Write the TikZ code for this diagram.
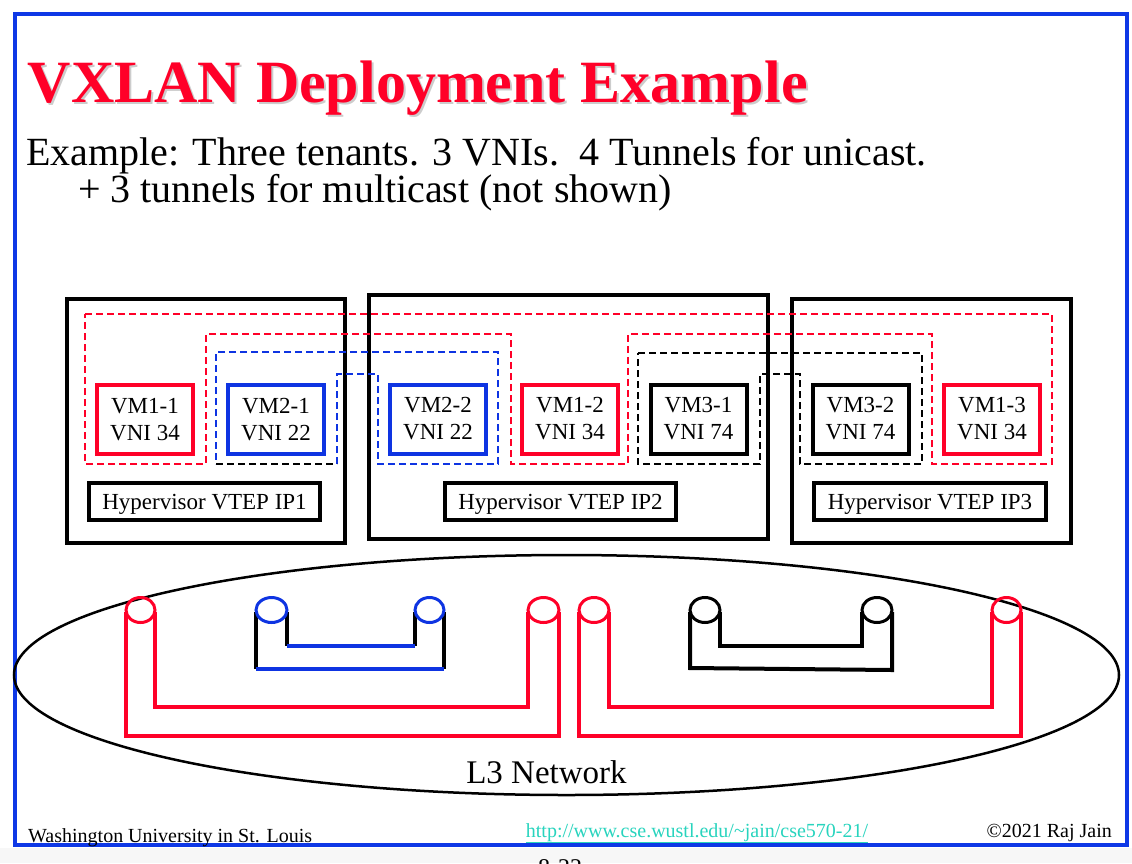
\documentclass[tikz,border=0pt]{standalone}
\usepackage{fontspec}
\setmainfont{Liberation Serif}
\definecolor{tred}{RGB}{255,0,40}
\definecolor{tblue}{RGB}{14,52,226}
\definecolor{frameblue}{RGB}{14,56,230}
\definecolor{urlteal}{RGB}{40,212,190}
\begin{document}
\begin{tikzpicture}[x=1pt,y=-1pt,
  hvbox/.style={draw=black, line width=4pt, inner sep=0pt, minimum height=244pt},
  vmbox/.style={draw=#1, line width=4pt, minimum width=96pt, minimum height=69pt,
    inner sep=0pt, align=center, font=\fontsize{23}{27}\selectfont},
  hvlabel/.style={draw=black, line width=4pt, minimum width=231pt, minimum height=37pt,
    inner sep=0pt, text depth=0pt, font=\fontsize{23}{27}\selectfont},
  tundash/.style={line width=1.6pt, dash pattern=on 7pt off 4pt},
  tunpipe/.style={line width=4pt, line join=miter},
  tuncap/.style={line width=3pt},
  txt/.style={inner sep=0pt, anchor=base west}]

\useasboundingbox (0,0) rectangle (1132,863);
\fill[white] (0,0) rectangle (1132,863);
\fill[black!3] (0,848) rectangle (1132,863);

% slide frame
\draw[frameblue, line width=4pt] (15,13.5) rectangle (1127,845);

% title with soft shadow
\node[txt, text=black!20, font=\fontsize{60}{60}\bfseries\selectfont] (titleshadow) at (29.5,104) {VXLAN Deployment Example};
\node[txt, text=tred, font=\fontsize{60}{60}\bfseries\selectfont] (title) at (27.5,102) {VXLAN Deployment Example};

% subtitle
\node[txt, font=\fontsize{40}{40}\selectfont] (sub1) at (26,165) {Example: Three tenants. 3 VNIs.\ \ 4 Tunnels for unicast.};
\node[txt, font=\fontsize{40}{40}\selectfont] (sub2) at (78,202) {+ 3 tunnels for multicast (not shown)};

% hypervisors
\node[hvbox, minimum width=278pt] (hv1) at (206,421) {};
\node[hvbox, minimum width=399pt] (hv2) at (568.5,417) {};
\node[hvbox, minimum width=279pt] (hv3) at (931.5,421) {};

% virtual machines
\node[vmbox=tred]  (vm11) at (145,419.5) {VM1-1\\VNI 34};
\node[vmbox=tblue] (vm21) at (276,419.5) {VM2-1\\VNI 22};
\node[vmbox=tblue] (vm22) at (438,419) {VM2-2\\VNI 22};
\node[vmbox=tred]  (vm12) at (570,419) {VM1-2\\VNI 34};
\node[vmbox=black] (vm31) at (698.5,419) {VM3-1\\VNI 74};
\node[vmbox=black] (vm32) at (860.5,419) {VM3-2\\VNI 74};
\node[vmbox=tred]  (vm13) at (992,419) {VM1-3\\VNI 34};

% VTEP labels
\node[hvlabel] (ip1) at (204.5,501.5) {Hypervisor VTEP IP1};
\node[hvlabel] (ip2) at (560.5,501.5) {Hypervisor VTEP IP2};
\node[hvlabel, minimum width=232pt] (ip3) at (930,501.5) {Hypervisor VTEP IP3};

% tenant outlines
\draw[tundash, tred] (85,314) -- (1052,314) -- (1052,464) -- (932,464) -- (932,334)
  -- (628,334) -- (628,464) -- (511,464) -- (511,334) -- (206,334) -- (206,464)
  -- (85,464) -- cycle;
\draw[tundash, tblue] (337,464) -- (337,374) -- (378,374) -- (378,464) -- (498,464)
  -- (498,352) -- (216,352) -- (216,464);
\draw[tundash, black] (216,464) -- (337,464);
\draw[tundash, black] (638,353) -- (922,353) -- (922,464) -- (800,464) -- (800,374)
  -- (760,374) -- (760,464) -- (638,464) -- cycle;

% L3 network
\draw[line width=2.5pt] (566.5,675) ellipse [x radius=552.5, y radius=120];
\node[inner sep=0pt, anchor=base, font=\fontsize{33}{33}\selectfont] (l3) at (546.5,783) {L3 Network};

% tunnel for VNI 34 (IP1 - IP2)
\draw[tunpipe, tred] (126,612) -- (126,736) -- (559,736) -- (559,612);
\draw[tunpipe, tred] (155,612) -- (155,707) -- (528,707) -- (528,612);
\draw[tuncap, tred] (140.5,610) ellipse [x radius=14.5, y radius=12.5];
\draw[tuncap, tred] (543.5,610) ellipse [x radius=15.5, y radius=12.5];

% tunnel for VNI 22
\draw[tunpipe] (256,612) -- (256,669);
\draw[tunpipe] (287,612) -- (287,646);
\draw[tunpipe] (415,612) -- (415,646);
\draw[tunpipe] (444,612) -- (444,669);
\draw[tunpipe, tblue] (287,646) -- (415,646);
\draw[tunpipe, tblue] (256,669) -- (444,669);
\draw[tuncap, tblue] (271.5,610) ellipse [x radius=15.5, y radius=12.5];
\draw[tuncap, tblue] (429.5,610) ellipse [x radius=14.5, y radius=12.5];

% tunnel for VNI 34 (IP2 - IP3)
\draw[tunpipe, tred] (579,612) -- (579,736) -- (1021,736) -- (1021,612);
\draw[tunpipe, tred] (609,612) -- (609,707) -- (992,707) -- (992,612);
\draw[tuncap, tred] (594,610) ellipse [x radius=15, y radius=12.5];
\draw[tuncap, tred] (1006.5,610) ellipse [x radius=14.5, y radius=12.5];

% tunnel for VNI 74
\draw[tunpipe] (690,612) -- (690,668) -- (892,670) -- (892,612);
\draw[tunpipe] (720,612) -- (720,646) -- (862,646) -- (862,612);
\draw[tuncap] (705,610) ellipse [x radius=15, y radius=12.5];
\draw[tuncap] (877,610) ellipse [x radius=15, y radius=12.5];

% footer
\node[txt, font=\fontsize{20}{20}\selectfont] (univ) at (28,842) {Washington University in St. Louis};
\node[inner sep=0pt, anchor=base, text=urlteal, font=\fontsize{20}{20}\selectfont] (url) at (697,837)
  {\underline{http://www.cse.wustl.edu/\textasciitilde jain/cse570-21/}};
\node[inner sep=0pt, anchor=base east, font=\fontsize{20}{20}\selectfont] (copy) at (1112,837) {©2021 Raj Jain};
\node[inner sep=0pt, anchor=base, font=\fontsize{24}{24}\selectfont] (page) at (560,875) {8-22};
\end{tikzpicture}
\end{document}
